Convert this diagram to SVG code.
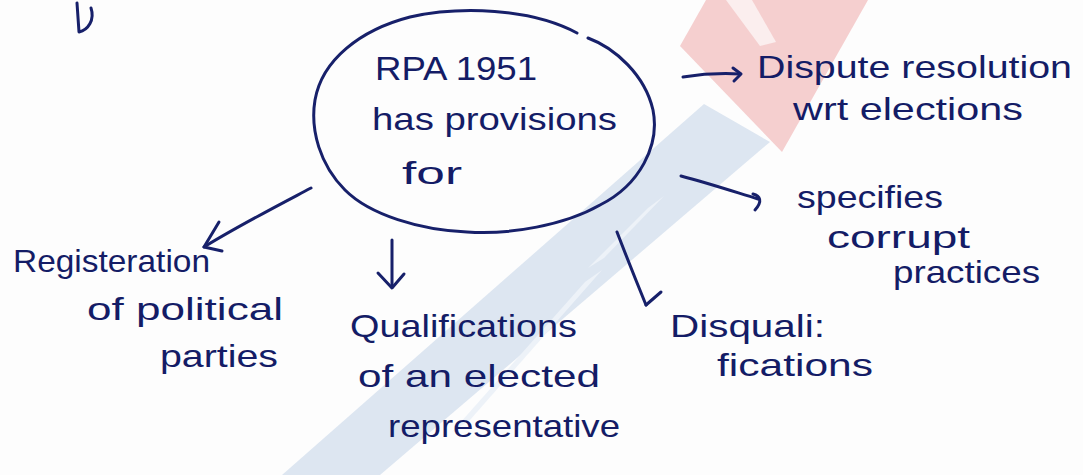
<svg xmlns="http://www.w3.org/2000/svg" width="1083" height="475" viewBox="0 0 1083 475">
  <style>
    .ink { fill: none; stroke: #17206a; stroke-width: 3; stroke-linecap: round; stroke-linejoin: round; }
    .label { font-family: "Liberation Sans", Arial, sans-serif; font-size: 32px; fill: #141c66; }
    .title { font-size: 34px; }
  </style>

  <!-- paper -->
  <rect width="1083" height="475" fill="#fdfdfd"/>

  <!-- faint background stamp -->
  <g id="stamp">
    <polygon points="680,46 706,0 868,0 782,152" fill="#f5cfcf"/>
    <polygon points="726,0 752,0 776,42 760,46" fill="#fbeeee"/>
    <polygon points="704,104 770,142 380,475 282,475" fill="#dde6f1"/>
    <polygon points="585,282 602,270 470,420 452,432" fill="#edf2f8"/>
    <polygon points="648,208 664,196 604,258 588,268" fill="#edf2f8"/>
  </g>

  <!-- connectors -->
  <g id="connectors">
    <!-- to dispute resolution -->
    <path class="ink" d="M683,77 C702,74 722,73 740,74"/>
    <path class="ink" d="M733,68 L741,74 L734,81"/>
    <!-- to corrupt practices -->
    <path class="ink" d="M681,176 C708,183 735,192 758,199"/>
    <path class="ink" d="M753,194 C760,196 763,201 755,210"/>
    <!-- to disqualifications -->
    <path class="ink" d="M617,232 C627,258 637,283 646,305"/>
    <path class="ink" d="M646,305 L661,292"/>
    <!-- to qualifications -->
    <path class="ink" d="M392,240 L392,287"/>
    <path class="ink" d="M378,273 L392,288 L404,274"/>
    <!-- to registration -->
    <path class="ink" d="M311,188 C275,207 238,226 204,247"/>
    <path class="ink" d="M219,222 L204,247 L222,251"/>
  </g>

  <!-- clipped stroke from the line above -->
  <g id="fragment">
    <path class="ink" d="M77,3 L79,32 C88,30 95,20 91,8"/>
  </g>

  <!-- central node -->
  <g id="node-rpa">
    <path class="ink" d="M588,38 C615,48 645,75 653,110 C660,145 640,185 600,205 C565,225 510,235 467,232 C420,230 370,215 345,190 C320,165 310,130 315,100 C322,60 360,30 410,17 C460,6 530,8 577,33"/>
    <text class="label title" x="375" y="80" textLength="162" lengthAdjust="spacingAndGlyphs">RPA 1951</text>
    <text class="label" x="372" y="130" textLength="245" lengthAdjust="spacingAndGlyphs">has provisions</text>
    <text class="label" x="402" y="184" textLength="60" lengthAdjust="spacingAndGlyphs">for</text>
  </g>

  <g id="node-dispute">
    <text class="label" x="757" y="78" textLength="315" lengthAdjust="spacingAndGlyphs">Dispute resolution</text>
    <text class="label" x="793" y="120" textLength="230" lengthAdjust="spacingAndGlyphs">wrt elections</text>
  </g>

  <g id="node-corrupt">
    <text class="label" x="797" y="208" textLength="146" lengthAdjust="spacingAndGlyphs">specifies</text>
    <text class="label" x="827" y="248" textLength="143" lengthAdjust="spacingAndGlyphs">corrupt</text>
    <text class="label" x="893" y="283" textLength="147" lengthAdjust="spacingAndGlyphs">practices</text>
  </g>

  <g id="node-disqualifications">
    <text class="label" x="670" y="337" textLength="155" lengthAdjust="spacingAndGlyphs">Disquali:</text>
    <text class="label" x="717" y="376" textLength="156" lengthAdjust="spacingAndGlyphs">fications</text>
  </g>

  <g id="node-qualifications">
    <text class="label" x="350" y="337" textLength="227" lengthAdjust="spacingAndGlyphs">Qualifications</text>
    <text class="label" x="358" y="387" textLength="242" lengthAdjust="spacingAndGlyphs">of an elected</text>
    <text class="label" x="388" y="437" textLength="232" lengthAdjust="spacingAndGlyphs">representative</text>
  </g>

  <g id="node-registration">
    <text class="label" x="13" y="272" textLength="197" lengthAdjust="spacingAndGlyphs">Registeration</text>
    <text class="label" x="87" y="320" textLength="196" lengthAdjust="spacingAndGlyphs">of political</text>
    <text class="label" x="160" y="367" textLength="118" lengthAdjust="spacingAndGlyphs">parties</text>
  </g>
</svg>
